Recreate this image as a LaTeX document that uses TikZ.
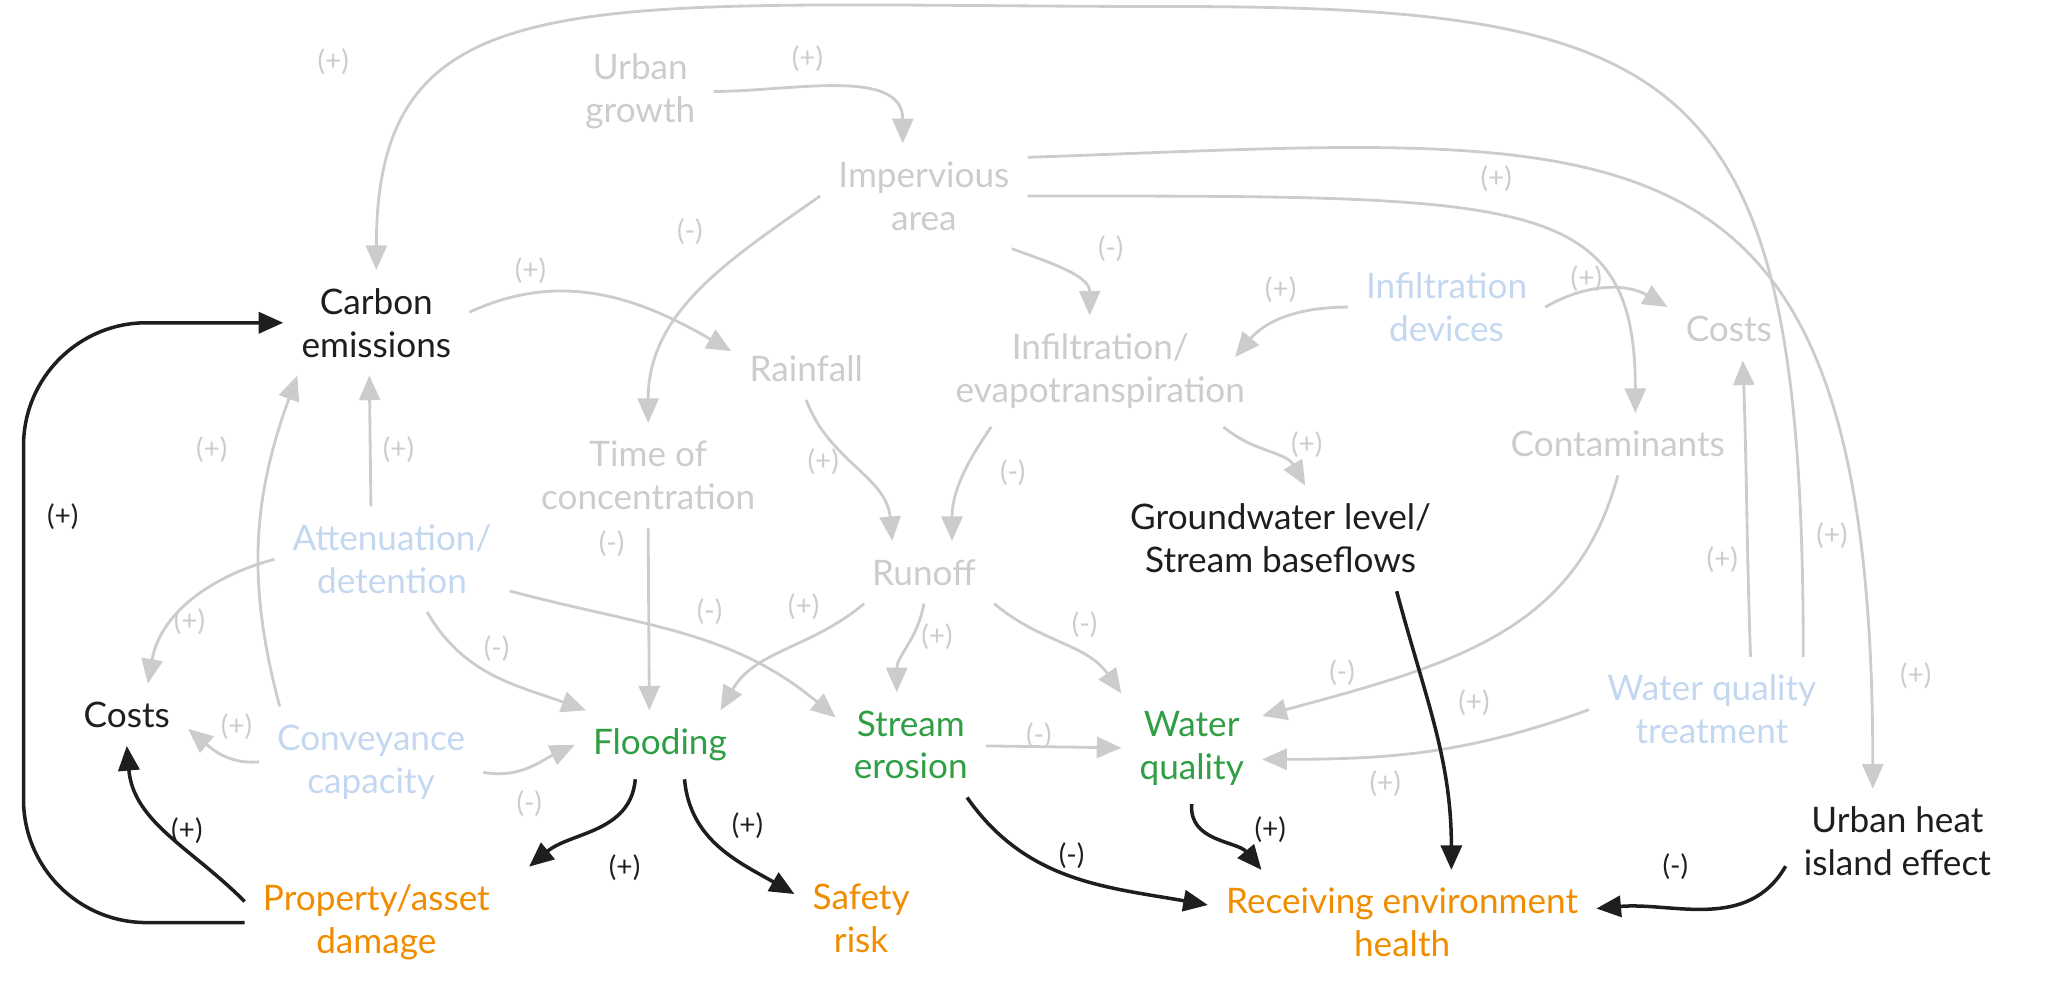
\documentclass[tikz,border=0pt]{standalone}
\usepackage{fontspec}
\setmainfont{Lato}
\usetikzlibrary{arrows.meta}
\definecolor{faint}{HTML}{CCCCCC}
\definecolor{pale}{HTML}{C3D8F0}
\definecolor{leaf}{HTML}{2F9E44}
\definecolor{amber}{HTML}{F08C00}
\definecolor{ink}{HTML}{1E1E1E}
\begin{document}
\begin{tikzpicture}[x=0.013068cm, y=-0.013068cm,
	var/.style={align=center, inner sep=5pt, font=\fontsize{10}{12.2}\selectfont},
	gedge/.style={draw=faint, line width=0.8pt, -{Triangle[length=7pt,width=6pt]}},
	bedge/.style={draw=ink, line width=1pt, -{Triangle[length=7pt,width=6pt]}},
	sign/.style={font=\fontsize{8}{9}\selectfont, inner sep=0pt}]
	\useasboundingbox (0,0) rectangle (1568,750);
	\node[var, text=faint] (ugrow) at (490,70) {Urban\\growth};
	\node[var, text=faint] (imp) at (707,150) {Impervious\\area};
	\node[var, text=ink] (cemis) at (288,247) {Carbon\\emissions};
	\node[var, text=faint] (rain) at (617,282) {Rainfall};
	\node[var, text=faint] (infil) at (842,284) {Infiltration/\\evapotranspiration};
	\node[var, text=pale] (idev) at (1107,235) {Infiltration\\devices};
	\node[var, text=faint] (costr) at (1323,252) {Costs};
	\node[var, text=faint] (contam) at (1238,340) {Contaminants};
	\node[var, text=faint] (toc) at (496,364) {Time of\\concentration};
	\node[var, text=pale] (atten) at (300,428) {Attenuation/\\detention};
	\node[var, text=faint] (runoff) at (707,438) {Runoff};
	\node[var, text=ink] (gwater) at (980,412) {Groundwater level/\\Stream baseflows};
	\node[var, text=ink] (costl) at (97,547) {Costs};
	\node[var, text=pale] (conv) at (284,583) {Conveyance\\capacity};
	\node[var, text=leaf] (flood) at (505,570) {Flooding};
	\node[var, text=leaf] (erosion) at (697,570) {Stream\\erosion};
	\node[var, text=leaf] (wq) at (912,573) {Water\\quality};
	\node[var, text=pale] (wqt) at (1310,543) {Water quality\\treatment};
	\node[var, text=ink] (uhi) at (1452,644) {Urban heat\\island effect};
	\node[var, text=amber] (prop) at (288,706) {Property/asset\\damage};
	\node[var, text=amber] (safety) at (659,703) {Safety\\risk};
	\node[var, text=amber] (reh) at (1073,706) {Receiving environment\\health};
	\draw[gedge] (ugrow.east) to[out=0,in=90] ([xshift=-6pt]imp.north);
	\draw[gedge] ([xshift=26pt]wqt.north) to[out=90,in=0,out distance=5.8cm,in distance=5.2cm] (900,5) to[out=180,in=90,out distance=5.9cm,in distance=3cm] (cemis.north);
	\draw[gedge] (imp.west) to[out=215,in=90] (toc.north);
	\draw[gedge] ([xshift=25pt]imp.south) to[out=-20,in=90] ([xshift=-3pt]infil.north);
	\draw[gedge] (imp.east) to[out=0,in=90,out distance=5cm,in distance=2.2cm] ([xshift=5pt]contam.north);
	\draw[gedge] ([yshift=11pt]imp.east) to[out=2,in=90,out distance=6cm,in distance=7cm] ([xshift=-7pt]uhi.north);
	\draw[gedge] ([yshift=3pt]cemis.east) to[out=25,in=150] (rain.167);
	\draw[gedge] (idev.west) to[out=180,in=50] ([xshift=-8pt,yshift=4pt]infil.east);
	\draw[gedge] (idev.east) to[out=30,in=150] (costr.160);
	\draw[gedge] (rain.south) to[out=-70,in=95] ([xshift=-9pt]runoff.north);
	\draw[gedge] ([xshift=-31pt]infil.south) to[out=235,in=90] ([xshift=8pt]runoff.north);
	\draw[gedge] ([xshift=35pt]infil.south) to[out=-40,in=120] ([xshift=7pt]gwater.north);
	\draw[gedge] (contam.south) to[out=-105,in=15,out distance=1.6cm,in distance=2cm] (wq.25);
	\draw[gedge] (toc.south) -- ([xshift=-3pt]flood.north);
	\draw[gedge] ([xshift=-6pt]atten.north) -- ([xshift=-2pt]cemis.south);
	\draw[gedge] ([xshift=-26pt]conv.north) to[out=105,in=250] ([xshift=4pt]cemis.south west);
	\draw[gedge] (atten.west) to[out=195,in=80] ([xshift=6pt]costl.north);
	\draw[gedge] ([xshift=10pt]atten.south) to[out=-60,in=160] (flood.155);
	\draw[gedge] ([yshift=-9pt]atten.east) to[out=-15,in=140] (erosion.160);
	\draw[gedge] ([xshift=-17pt]runoff.south) to[out=220,in=60] ([xshift=-7pt]flood.north east);
	\draw[gedge] (runoff.south) to[out=-100,in=90] ([xshift=-4pt]erosion.north);
	\draw[gedge] ([xshift=20pt]runoff.south) to[out=-40,in=125] (wq.north west);
	\draw[gedge] (conv.west) to[out=185,in=-40] ([yshift=-4pt]costl.east);
	\draw[gedge] ([yshift=-3pt]conv.east) to[out=-10,in=205] (flood.west);
	\draw[gedge] (erosion) -- (wq);
	\draw[gedge] (wqt.west) to[out=200,in=0] ([yshift=-3pt]wq.east);
	\draw[gedge] ([xshift=11pt]wqt.north) to[out=92,in=-88] ([xshift=4pt]costr.south);
	\draw[bedge, rounded corners=35pt] (prop.west) -| (18,480) |- (cemis.west);
	\draw[bedge] ([yshift=6pt]prop.west) to[out=135,in=-85] (costl.south);
	\draw[bedge] ([xshift=-7pt]flood.south) to[out=-95,in=40] ([xshift=6pt]prop.north east);
	\draw[bedge] ([xshift=7pt]flood.south) to[out=-85,in=150] ([yshift=7pt]safety.west);
	\draw[bedge] ([xshift=16pt]erosion.south) to[out=-55,in=170] ([yshift=5pt]reh.west);
	\draw[bedge] (wq.south) to[out=-95,in=130] ([xshift=-40pt]reh.north);
	\draw[bedge] ([xshift=33pt]gwater.south) to[out=-75,in=90] ([xshift=14pt]reh.north);
	\draw[bedge] ([yshift=-7pt]uhi.west) to[out=240,in=5] ([yshift=4pt]reh.east);
	\foreach \x/\y/\s [count=\i] in {618/45/+, 255/47/+, 528/177/-, 850/190/-, 1145/137/+, 406/207/+, 980/222/+, 1214/213/+, 630/353/+, 775/362/-, 1000/340/+, 1027/515/-, 468/416/-, 305/344/+, 162/344/+, 145/476/+, 380/496/-, 543/468/-, 615/464/+, 717/487/+, 830/478/-, 181/556/+, 405/615/-, 795/563/-, 1060/600/+, 1318/428/+, 1402/410/+, 1466/517/+, 1128/538/+}
		\node[sign, text=faint] (gs\i) at (\x,\y) {(\s)};
	\foreach \x/\y/\s [count=\i] in {48/395/+, 143/636/+, 478/664/+, 572/632/+, 820/655/-, 972/635/+, 1282/663/-}
		\node[sign, text=ink] (bs\i) at (\x,\y) {(\s)};
\end{tikzpicture}
\end{document}
